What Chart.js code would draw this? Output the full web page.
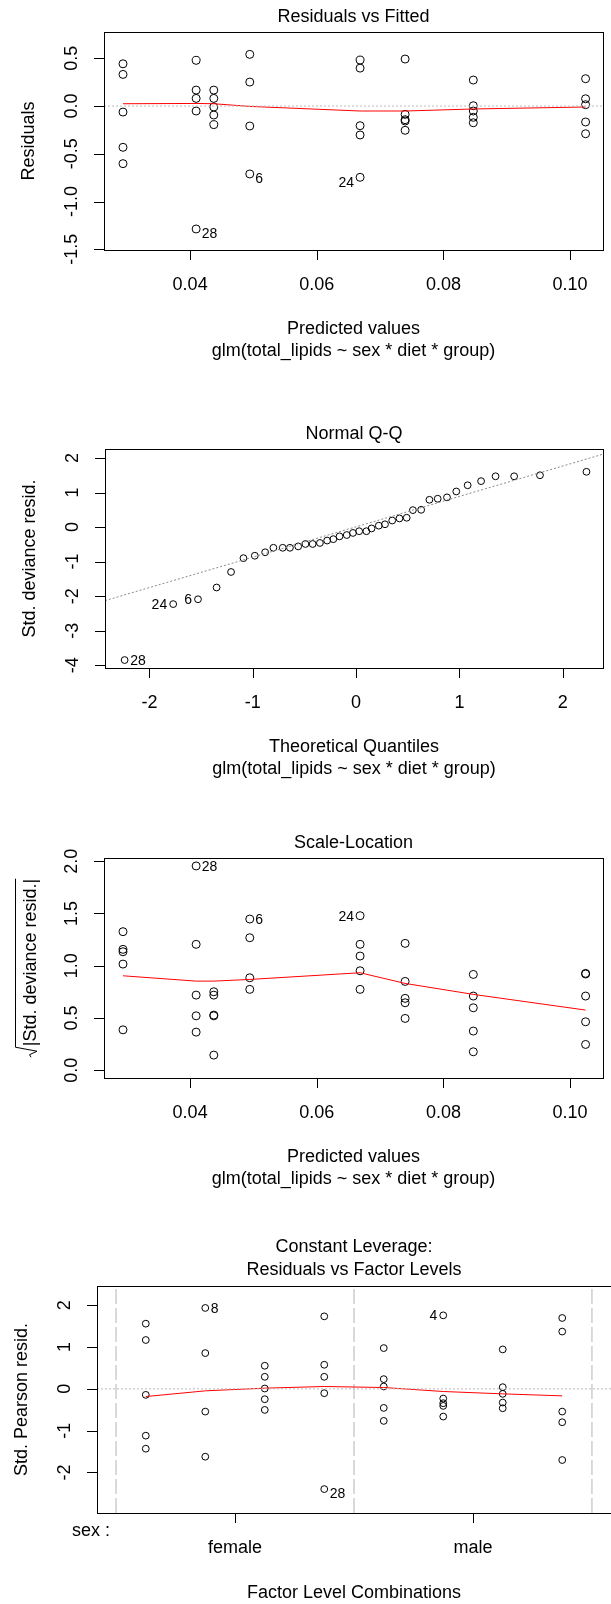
<!DOCTYPE html>
<html>
<head>
<meta charset="utf-8">
<title>glm diagnostics</title>
<script src="https://cdn.jsdelivr.net/npm/chart.js@4.4.1/dist/chart.umd.min.js"></script>
<style>
    html, body { margin: 0; padding: 0; background: #fff; overflow: hidden; width: 611px; height: 1604px; }
    canvas { position: absolute; left: 0; }
</style>
</head>
<body>
<canvas id="g1" width="611" height="400" style="top:0px"></canvas>
<canvas id="g2" width="611" height="400" style="top:400px"></canvas>
<canvas id="g3" width="611" height="400" style="top:800px"></canvas>
<canvas id="g4" width="616" height="404" style="top:1200px"></canvas>
<script>
// ---- Residuals vs Fitted ----
const ajustados = [0.0294, 0.04095, 0.04374, 0.04942, 0.06684, 0.07395, 0.08472, 0.10245];
const residuos = [
    [0.442, 0.331, -0.063, -0.432, -0.603],
    [0.478, 0.167, 0.080, -0.052, -1.287],
    [0.167, 0.080, -0.010, -0.094, -0.195],
    [0.541, 0.251, -0.209, -0.711],
    [0.481, 0.397, -0.206, -0.303, -0.746],
    [0.492, -0.087, -0.143, -0.157, -0.254],
    [0.272, 0.003, -0.052, -0.118, -0.175],
    [0.286, 0.076, 0.014, -0.167, -0.290]
];
const residuosSuave = [0.024, 0.027, 0.024, -0.004, -0.052, -0.052, -0.031, -0.010];
const residuosIdX = [0.04095, 0.04942, 0.06684];
const residuosIdY = [-1.287, -0.711, -0.746];
const residuosIdTxt = ['28', '6', '24'];
const residuosIdLado = ['d', 'd', 'e'];
const ajustXlim = [0.0264, 0.1052];
const residYlim = [-1.507, 0.775];
const ajustTicks = [0.04, 0.06, 0.08, 0.10];
const ajustTickTxt = ['0.04', '0.06', '0.08', '0.10'];
const residTicks = [-1.5, -1.0, -0.5, 0.0, 0.5];
const residTickTxt = ['-1.5', '-1.0', '-0.5', '0.0', '0.5'];

// ---- Normal Q-Q ----
const qqTeorico = [-2.24, -1.77, -1.53, -1.35, -1.21, -1.09, -0.98, -0.88, -0.80, -0.71,
    -0.64, -0.56, -0.49, -0.42, -0.35, -0.28, -0.22, -0.16, -0.09, -0.03,
    0.03, 0.10, 0.15, 0.22, 0.28, 0.35, 0.42, 0.49, 0.55, 0.63,
    0.71, 0.79, 0.88, 0.97, 1.08, 1.21, 1.35, 1.53, 1.78, 2.23];
const qqResid = [-3.85, -2.23, -2.09, -1.75, -1.30, -0.90, -0.83, -0.73, -0.60, -0.60,
    -0.60, -0.56, -0.49, -0.49, -0.46, -0.39, -0.35, -0.27, -0.23, -0.17,
    -0.12, -0.12, -0.04, 0.04, 0.08, 0.19, 0.25, 0.27, 0.49, 0.50,
    0.79, 0.82, 0.86, 1.03, 1.21, 1.33, 1.47, 1.47, 1.50, 1.60];
const qqLinhaX = [-2.43, 2.39];
const qqLinhaY = [-2.13, 2.11];
const qqIdX = [-2.24, -1.77, -1.53];
const qqIdY = [-3.85, -2.23, -2.09];
const qqIdTxt = ['28', '24', '6'];
const qqIdLado = ['d', 'e', 'e'];
const qqXlim = [-2.43, 2.39];
const qqYlim = [-4.08, 2.26];
const qqXTicks = [-2, -1, 0, 1, 2];
const qqXTickTxt = ['-2', '-1', '0', '1', '2'];
const qqYTicks = [-4, -3, -2, -1, 0, 1, 2];
const qqYTickTxt = ['-4', '-3', '-2', '-1', '0', '1', '2'];

// ---- Scale-Location ----
const escala = [
    [1.325, 1.156, 1.133, 1.015, 0.386],
    [1.954, 1.204, 0.718, 0.520, 0.364],
    [0.750, 0.718, 0.527, 0.520, 0.144],
    [1.446, 1.267, 0.884, 0.773],
    [1.478, 1.204, 1.092, 0.951, 0.773],
    [1.213, 0.849, 0.687, 0.645, 0.495],
    [0.916, 0.709, 0.597, 0.374, 0.176],
    [0.926, 0.920, 0.709, 0.463, 0.246]
];
const escalaSuave = [0.903, 0.852, 0.852, 0.868, 0.932, 0.830, 0.725, 0.575];
const escalaIdX = [0.04095, 0.04942, 0.06684];
const escalaIdY = [1.954, 1.446, 1.478];
const escalaIdTxt = ['28', '6', '24'];
const escalaIdLado = ['d', 'd', 'e'];
const escalaYlim = [-0.075, 2.03];
const escalaTicks = [0.0, 0.5, 1.0, 1.5, 2.0];
const escalaTickTxt = ['0.0', '0.5', '1.0', '1.5', '2.0'];

// ---- Residuals vs Factor Levels ----
const niveis = [0, 1, 2, 3, 4, 5, 6, 7];
const pearson = [
    [1.559, 1.168, -0.144, -1.120, -1.432],
    [1.935, 0.855, -0.544, -1.623],
    [0.552, 0.288, 0.008, -0.248, -0.504],
    [1.734, 0.576, 0.288, -0.104, -2.398],
    [0.975, 0.232, 0.056, -0.456, -0.767],
    [1.758, -0.232, -0.344, -0.408, -0.663],
    [0.943, 0.040, -0.120, -0.328, -0.464],
    [1.695, 1.370, -0.544, -0.799, -1.703]
];
const pearsonSuave = [-0.184, -0.048, 0.016, 0.056, 0.032, -0.064, -0.120, -0.168];
const pearsonIdX = [1, 5, 3];
const pearsonIdY = [1.935, 1.758, -2.398];
const pearsonIdTxt = ['8', '4', '28'];
const pearsonIdLado = ['d', 'e', 'd'];
const divisoes = [-0.5, 3.5, 7.5];
const nivelXlim = [-0.82, 7.82];
const pearsonYlim = [-2.97, 2.46];
const sexoTicks = [1.5, 5.5];
const sexoTickTxt = ['female', 'male'];
const pearsonTicks = [-2, -1, 0, 1, 2];
const pearsonTickTxt = ['-2', '-1', '0', '1', '2'];

const formula = 'glm(total_lipids ~ sex * diet * group)';
const fonte = '"Liberation Sans", Arial, sans-serif';

// monta os pontos {x, y} a partir dos grupos
function pontos(xs, grupos) {
    const out = [];
    grupos.forEach(function (g, i) {
        g.forEach(function (v) { out.push({ x: xs[i], y: v }); });
    });
    return out;
}
function pares(xs, ys) {
    return xs.map(function (x, i) { return { x: x, y: ys[i] }; });
}

// Plugin que desenha caixa, eixos e textos no estilo do R
const eixosR = {
    id: 'eixosR',
    afterDraw(chart, args, op) {
        const ctx = chart.ctx;
        const a = chart.chartArea;
        const sx = chart.scales.x, sy = chart.scales.y;
        const L = Math.round(a.left), R = Math.round(a.right);
        const T = Math.round(a.top), B = Math.round(a.bottom);
        const cx = (L + R) / 2;
        ctx.save();
        ctx.strokeStyle = '#000';
        ctx.lineWidth = 1;
        ctx.strokeRect(L + 0.5, T + 0.5, R - L, B - T);

        // marcas dos eixos
        ctx.beginPath();
        op.xTicks.forEach(function (v) {
            const p = Math.round(sx.getPixelForValue(v)) + 0.5;
            ctx.moveTo(p, B); ctx.lineTo(p, B + 10);
        });
        op.yTicks.forEach(function (v) {
            const p = Math.round(sy.getPixelForValue(v)) + 0.5;
            ctx.moveTo(L - 10, p); ctx.lineTo(L, p);
        });
        ctx.stroke();

        ctx.fillStyle = '#000';
        ctx.font = '18px ' + fonte;
        ctx.textAlign = 'center';
        ctx.textBaseline = 'middle';
        op.xTicks.forEach(function (v, i) {
            ctx.fillText(op.xTxt[i], sx.getPixelForValue(v), B + 35);
        });
        op.yTicks.forEach(function (v, i) {
            ctx.save();
            ctx.translate(L - 32, sy.getPixelForValue(v));
            ctx.rotate(-Math.PI / 2);
            ctx.fillText(op.yTxt[i], 0, 0);
            ctx.restore();
        });

        // titulos
        op.titulo.forEach(function (t, i) {
            ctx.fillText(t, cx, T + op.tituloY[i]);
        });
        op.xTitulo.forEach(function (t, i) {
            ctx.fillText(t, cx, B + op.xTituloY[i]);
        });
        if (op.fator) {
            ctx.textAlign = 'right';
            ctx.fillText(op.fator, L + 13, B + 18);
            ctx.textAlign = 'center';
        }

        // titulo do eixo y
        ctx.save();
        ctx.translate(L - 75, (T + B) / 2);
        ctx.rotate(-Math.PI / 2);
        if (op.raiz) {
            const w = ctx.measureText(op.yTitulo).width;
            const u0 = -(w + 11) / 2;
            ctx.textAlign = 'left';
            ctx.textBaseline = 'alphabetic';
            ctx.fillText(op.yTitulo, u0 + 11, 6.5);
            ctx.beginPath();
            ctx.moveTo(u0, 2);
            ctx.lineTo(u0 + 2.5, 0.5);
            ctx.lineTo(u0 + 6, 8);
            ctx.lineTo(u0 + 10, -13.5);
            ctx.lineTo(u0 + 11 + w, -13.5);
            ctx.stroke();
        } else {
            ctx.fillText(op.yTitulo, 0, 0);
        }
        ctx.restore();

        // identificadores dos pontos
        ctx.font = '14px ' + fonte;
        op.idX.forEach(function (v, i) {
            const px = sx.getPixelForValue(v);
            const py = sy.getPixelForValue(op.idY[i]) + (op.idY[i] < 0 ? op.desvioNeg : 1);
            if (op.idLado[i] === 'd') {
                ctx.textAlign = 'left';
                ctx.fillText(op.idTxt[i], px + 5.5, py);
            } else {
                ctx.textAlign = 'right';
                ctx.fillText(op.idTxt[i], px - 6, py);
            }
        });
        ctx.restore();
    }
};

function criaGrafico(id, datasets, xlim, ylim, pad, eixos) {
    const ctx = document.getElementById(id).getContext('2d');
    return new Chart(ctx, {
        type: 'scatter',
        data: { datasets: datasets },
        options: {
            responsive: false,
            animation: false,
            devicePixelRatio: 1,
            events: [],
            layout: { padding: pad },
            scales: {
                x: { type: 'linear', min: xlim[0], max: xlim[1], display: false },
                y: { type: 'linear', min: ylim[0], max: ylim[1], display: false }
            },
            plugins: {
                legend: { display: false },
                tooltip: { enabled: false },
                eixosR: eixos
            }
        },
        plugins: [eixosR]
    });
}

function dsPontos(data, raio) {
    return {
        data: data, showLine: false, order: 2, clip: false,
        pointStyle: 'circle', pointRadius: raio, pointBorderWidth: 1,
        pointBorderColor: '#000', pointBackgroundColor: 'rgba(0,0,0,0)'
    };
}
function dsLinha(data, cor, tracejado, ordem) {
    return {
        data: data, showLine: true, order: ordem, pointRadius: 0,
        borderColor: cor, borderWidth: 1, borderDash: tracejado, tension: 0, fill: false
    };
}

// 1. Residuals vs Fitted
criaGrafico('g1', [
    dsPontos(pontos(ajustados, residuos), 4),
    dsLinha(pares(ajustados, residuosSuave), '#ff0000', [], 1),
    dsLinha(pares(ajustXlim, [0, 0]), '#bdbdbd', [2, 2], 0)
], ajustXlim, residYlim, { left: 104, right: 8, top: 32, bottom: 150 }, {
    xTicks: ajustTicks, xTxt: ajustTickTxt, yTicks: residTicks, yTxt: residTickTxt,
    titulo: ['Residuals vs Fitted'], tituloY: [-15],
    xTitulo: ['Predicted values', formula], xTituloY: [79, 101], yTitulo: 'Residuals',
    idX: residuosIdX, idY: residuosIdY, idTxt: residuosIdTxt, idLado: residuosIdLado, desvioNeg: 5.5
});

// 2. Normal Q-Q
criaGrafico('g2', [
    dsPontos(pares(qqTeorico, qqResid), 3.4),
    dsLinha(pares(qqLinhaX, qqLinhaY), '#8a8a8a', [2, 2], 0)
], qqXlim, qqYlim, { left: 105, right: 8, top: 49, bottom: 132 }, {
    xTicks: qqXTicks, xTxt: qqXTickTxt, yTicks: qqYTicks, yTxt: qqYTickTxt,
    titulo: ['Normal Q-Q'], tituloY: [-15],
    xTitulo: ['Theoretical Quantiles', formula], xTituloY: [79, 101], yTitulo: 'Std. deviance resid.',
    idX: qqIdX, idY: qqIdY, idTxt: qqIdTxt, idLado: qqIdLado, desvioNeg: 1
});

// 3. Scale-Location
criaGrafico('g3', [
    dsPontos(pontos(ajustados, escala), 4),
    dsLinha(pares(ajustados, escalaSuave), '#ff0000', [], 1)
], ajustXlim, escalaYlim, { left: 104, right: 8, top: 58, bottom: 122 }, {
    xTicks: ajustTicks, xTxt: ajustTickTxt, yTicks: escalaTicks, yTxt: escalaTickTxt,
    titulo: ['Scale-Location'], tituloY: [-15],
    xTitulo: ['Predicted values', formula], xTituloY: [79, 101], yTitulo: '|Std. deviance resid.|', raiz: true,
    idX: escalaIdX, idY: escalaIdY, idTxt: escalaIdTxt, idLado: escalaIdLado, desvioNeg: 1
});

// 4. Constant Leverage: Residuals vs Factor Levels
const linhasDiv = divisoes.map(function (d) {
    return dsLinha(pares([d, d], pearsonYlim), '#b4b4b4', [15, 4], 3);
});
criaGrafico('g4', [
    dsPontos(pontos(niveis, pearson), 3.4),
    dsLinha(pares(niveis, pearsonSuave), '#ff0000', [], 1),
    dsLinha(pares(nivelXlim, [0, 0]), '#bdbdbd', [2, 2], 0)
].concat(linhasDiv), nivelXlim, pearsonYlim, { left: 97, right: 3, top: 86, bottom: 91 }, {
    xTicks: sexoTicks, xTxt: sexoTickTxt, yTicks: pearsonTicks, yTxt: pearsonTickTxt,
    titulo: ['Constant Leverage:', 'Residuals vs Factor Levels'], tituloY: [-39, -16],
    xTitulo: ['Factor Level Combinations'], xTituloY: [80], yTitulo: 'Std. Pearson resid.', fator: 'sex :',
    idX: pearsonIdX, idY: pearsonIdY, idTxt: pearsonIdTxt, idLado: pearsonIdLado, desvioNeg: 5.5
});
</script>
</body>
</html>
